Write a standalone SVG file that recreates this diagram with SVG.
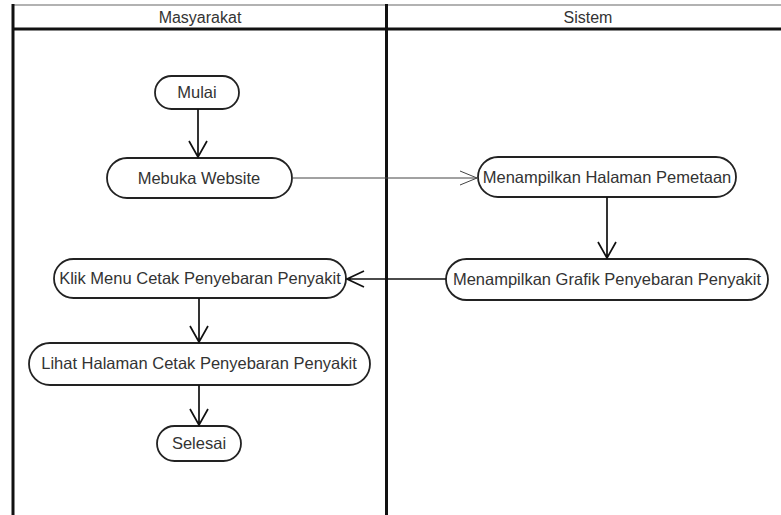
<svg xmlns="http://www.w3.org/2000/svg" width="781" height="515" viewBox="0 0 781 515">
<style>
.lane{stroke:#111;stroke-width:3;fill:none}
.node rect{fill:#fff;stroke:#222;stroke-width:1.8}
.node text,.hdr{font-family:"Liberation Sans",Arial,sans-serif;font-size:16.5px;fill:#333;text-anchor:middle}
.hdr{font-size:16px}
.edge{stroke:#111;stroke-width:1.7;fill:none}
.thin{stroke:#444;stroke-width:1}
</style>
<rect width="781" height="515" fill="#fff"/>
<g id="lanes">
<line x1="12" y1="5" x2="781" y2="5" stroke="#999" stroke-width="1.5"/>
<line class="lane" x1="12" y1="29" x2="781" y2="29"/>
<line class="lane" x1="13" y1="4" x2="13" y2="515"/>
<line class="lane" x1="386.5" y1="4" x2="386.5" y2="515"/>
<text class="hdr" x="200" y="23">Masyarakat</text>
<text class="hdr" x="588" y="23">Sistem</text>
</g>
<g id="n-mulai" class="node"><rect x="155" y="76" width="84" height="33" rx="16.5"/><text x="197" y="98">Mulai</text></g>
<g id="n-mebuka" class="node"><rect x="107" y="158" width="185" height="40" rx="20"/><text x="199" y="184">Mebuka Website</text></g>
<g id="n-halaman" class="node"><rect x="478" y="157" width="258" height="40" rx="20"/><text x="607" y="183">Menampilkan Halaman Pemetaan</text></g>
<g id="n-grafik" class="node"><rect x="446" y="259" width="322" height="41" rx="20.5"/><text x="607" y="285">Menampilkan Grafik Penyebaran Penyakit</text></g>
<g id="n-klik" class="node"><rect x="54" y="259" width="292" height="39" rx="19.5"/><text x="200" y="284">Klik Menu Cetak Penyebaran Penyakit</text></g>
<g id="n-lihat" class="node"><rect x="29" y="343" width="341" height="42" rx="21"/><text x="199" y="369">Lihat Halaman Cetak Penyebaran Penyakit</text></g>
<g id="n-selesai" class="node"><rect x="157" y="426" width="84" height="35" rx="17.5"/><text x="199" y="449">Selesai</text></g>
<g id="connectors">
<path class="edge" d="M198 109V157M189 141L198 157L207 141"/>
<path class="edge thin" d="M292 178H477M460 171L477 178L460 185"/>
<path class="edge" d="M607 197V258M598 242L607 258L616 242"/>
<path class="edge" d="M446 279H347M364 271L347 279L364 287"/>
<path class="edge" d="M199 298V342M190 326L199 342L208 326"/>
<path class="edge" d="M199 385V425M190 409L199 425L208 409"/>
</g>
</svg>
